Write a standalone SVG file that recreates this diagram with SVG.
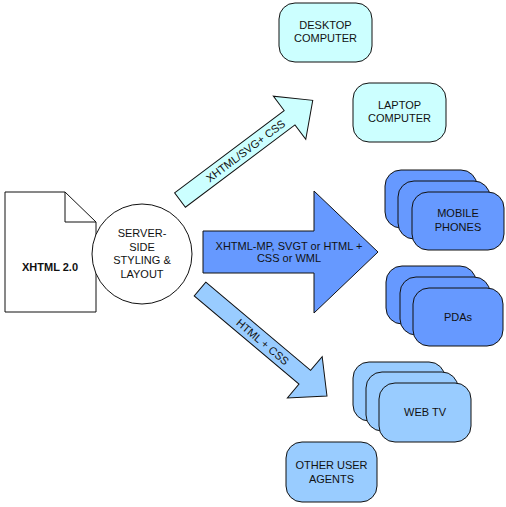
<svg xmlns="http://www.w3.org/2000/svg" width="506" height="507" viewBox="0 0 506 507">
<style>
text{font-family:"Liberation Sans",Arial,sans-serif;font-size:11px;fill:#111;text-anchor:middle}
.s{stroke:#111;stroke-width:1}
.c1{fill:#ccffff}
.c2{fill:#6699ff}
.c3{fill:#99ccff}
</style>
<rect width="506" height="507" fill="#fff"/>
<g id="connectors">
<g id="arrow-top" transform="translate(180,200) rotate(-36.9)">
<path class="s c1" d="M0,-9 L137,-9 L137,-27 L166,0 L137,27 L137,9 L0,9 Z"/>
<text x="82" y="4">XHTML/SVG+ CSS</text>
</g>
<g id="arrow-mid">
<path class="s c2" d="M203,231 L314,231 L314,191 L378,252 L314,313 L314,273 L203,273 Z"/>
<text x="289" y="250">XHTML-MP, SVGT or HTML +</text>
<text x="289" y="262">CSS or WML</text>
</g>
<g id="arrow-bottom" transform="translate(200,289) rotate(40.1)">
<path class="s c3" d="M0,-9 L137,-9 L137,-27 L166,0 L137,27 L137,9 L0,9 Z"/>
<text x="82" y="4">HTML + CSS</text>
</g>
</g>
<g id="doc">
<path class="s" fill="#fff" d="M5,192 L65,192 L96,222 L96,312 L5,312 Z"/>
<path class="s" fill="none" d="M65,192 L65,222 L96,222"/>
<text x="50" y="271" font-weight="bold">XHTML 2.0</text>
</g>
<g id="server">
<circle class="s" fill="#fff" cx="142" cy="254" r="50"/>
<text x="142" y="237">SERVER-</text>
<text x="142" y="251">SIDE</text>
<text x="142" y="264">STYLING &amp;</text>
<text x="142" y="278">LAYOUT</text>
</g>
<g id="desktop">
<rect class="s c1" x="279" y="3" width="93" height="59" rx="16"/>
<text x="325.5" y="29">DESKTOP</text>
<text x="325.5" y="42">COMPUTER</text>
</g>
<g id="laptop">
<rect class="s c1" x="353" y="83" width="93" height="59" rx="16"/>
<text x="399.5" y="109">LAPTOP</text>
<text x="399.5" y="122">COMPUTER</text>
</g>
<g id="mobile">
<rect class="s c2" x="385" y="170" width="92" height="58" rx="16"/>
<rect class="s c2" x="398" y="181" width="92" height="58" rx="16"/>
<rect class="s c2" x="412" y="192" width="92" height="58" rx="16"/>
<text x="458" y="217">MOBILE</text>
<text x="458" y="231">PHONES</text>
</g>
<g id="pdas">
<rect class="s c2" x="386" y="266" width="90" height="58" rx="16"/>
<rect class="s c2" x="400" y="277" width="90" height="58" rx="16"/>
<rect class="s c2" x="413" y="288" width="90" height="58" rx="16"/>
<text x="458" y="321">PDAs</text>
</g>
<g id="webtv">
<rect class="s c3" x="353" y="362" width="92" height="59" rx="16"/>
<rect class="s c3" x="366" y="372" width="92" height="59" rx="16"/>
<rect class="s c3" x="379" y="383" width="92" height="59" rx="16"/>
<text x="425" y="416">WEB TV</text>
</g>
<g id="other">
<rect class="s c3" x="286" y="442" width="91" height="60" rx="16"/>
<text x="331.5" y="469">OTHER USER</text>
<text x="331.5" y="483">AGENTS</text>
</g>
</svg>
